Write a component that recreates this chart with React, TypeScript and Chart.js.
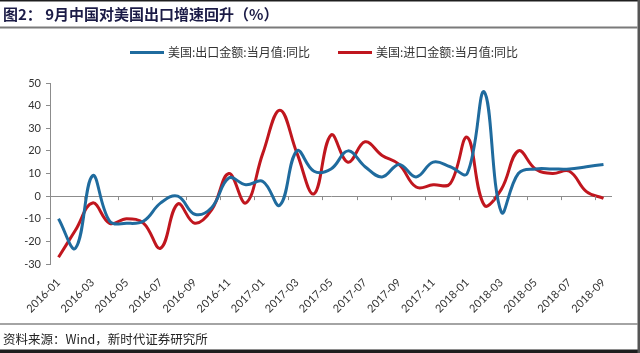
import React, { useEffect, useRef } from 'react';
import { Chart, registerables } from 'chart.js';

Chart.register(...registerables);

const months = [
  '2016-01', '2016-02', '2016-03', '2016-04', '2016-05', '2016-06', '2016-07', '2016-08', '2016-09', '2016-10', '2016-11', '2016-12',
  '2017-01', '2017-02', '2017-03', '2017-04', '2017-05', '2017-06', '2017-07', '2017-08', '2017-09', '2017-10', '2017-11', '2017-12',
  '2018-01', '2018-02', '2018-03', '2018-04', '2018-05', '2018-06', '2018-07', '2018-08', '2018-09',
];

const exportYoY = [
  -10, -23, 9, -11, -12, -11, -3, 0, -8, -5, 8, 5,
  6.5, -4, 20, 11, 12, 20, 13, 8.5, 14, 8.5, 15, 13,
  10, 46, -7, 10, 12, 12, 12, 13, 14,
];

const importYoY = [
  -27, -15, -3, -12, -10, -12, -23, -3.5, -12, -6, 10, -3,
  19, 38, 19, 1, 27, 15, 24, 18, 14, 4, 5, 5.5,
  26, -4, 3, 20, 12, 10, 11, 2, -1,
];

const seriesNames = ['美国:出口金额:当月值:同比', '美国:进口金额:当月值:同比'];
const seriesColors = ['#1F6B9E', '#C0161E'];
const titleText = '图2： 9月中国对美国出口增速回升（%）';
const sourceText = '资料来源：Wind，新时代证券研究所';
const yMin = -30;
const yMax = 50;
const yStep = 10;

const CJK = '"Noto Sans CJK SC", sans-serif';

const decorPlugin = {
  id: 'decor',
  beforeDraw(chart: any) {
    const ctx = chart.ctx;
    ctx.save();
    ctx.fillStyle = '#ffffff';
    ctx.fillRect(0, 0, chart.width, chart.height);
    ctx.restore();
  },
  afterDraw(chart: any) {
    const ctx = chart.ctx;
    const W = chart.width;
    const H = chart.height;
    ctx.save();
    // frame
    ctx.fillStyle = '#1e1e1e';
    ctx.fillRect(0, 0, W, 1.5);
    ctx.fillRect(0, H - 3.5, W, 3.5);
    ctx.fillStyle = '#555555';
    ctx.fillRect(W - 2.5, 0, 2.5, H);

    // title
    ctx.fillStyle = '#1b1b46';
    ctx.font = 'bold 15px ' + CJK;
    ctx.textBaseline = 'middle';
    ctx.textAlign = 'left';
    ctx.fillText(titleText, 3, 14);
    ctx.fillStyle = '#7a7a7a';
    ctx.fillRect(0, 26.5, W - 2.5, 2);

    // legend
    const legendItems = [
      { x: 130, tx: 168 },
      { x: 338, tx: 376 },
    ];
    legendItems.forEach((it, i) => {
      ctx.strokeStyle = seriesColors[i];
      ctx.lineWidth = 3;
      ctx.beginPath();
      ctx.moveTo(it.x, 52.5);
      ctx.lineTo(it.x + 34, 52.5);
      ctx.stroke();
      ctx.fillStyle = '#333333';
      ctx.font = '12px ' + CJK;
      ctx.textBaseline = 'middle';
      ctx.fillText(seriesNames[i], it.tx, 52.5);
    });

    // x tick marks on zero line
    const xs = chart.scales.x;
    const ys = chart.scales.y;
    const y0 = ys.getPixelForValue(0);
    ctx.strokeStyle = '#8c8c8c';
    ctx.lineWidth = 1;
    for (let k = 1; k < months.length - 1; k += 2) {
      const px = Math.round((xs.getPixelForValue(k) + xs.getPixelForValue(k + 1)) / 2) + 0.5;
      ctx.beginPath();
      ctx.moveTo(px, y0);
      ctx.lineTo(px, y0 + 4);
      ctx.stroke();
    }

    // bottom separator and source
    ctx.fillStyle = '#4a4a4a';
    ctx.fillRect(0, 323.5, W - 2.5, 1);
    ctx.fillStyle = '#222222';
    ctx.font = '12.5px ' + CJK;
    ctx.textBaseline = 'middle';
    ctx.fillText(sourceText, 3, 339);
    ctx.restore();
  },
};

export default function App() {
  const ref = useRef<HTMLCanvasElement | null>(null);
  useEffect(() => {
    if (!ref.current) return;
    const tickFont = { family: 'Lato, "Liberation Sans", sans-serif', size: 11 };
    const chart = new Chart(ref.current, {
      type: 'line',
      data: {
        labels: months,
        datasets: [
          {
            label: seriesNames[0],
            data: exportYoY,
            borderColor: seriesColors[0],
            backgroundColor: seriesColors[0],
            borderWidth: 3,
            tension: 0.4,
            pointRadius: 0,
            fill: false,
          },
          {
            label: seriesNames[1],
            data: importYoY,
            borderColor: seriesColors[1],
            backgroundColor: seriesColors[1],
            borderWidth: 3,
            tension: 0.4,
            pointRadius: 0,
            fill: false,
          },
        ],
      },
      options: {
        animation: false,
        responsive: false,
        devicePixelRatio: 1,
        layout: { padding: { top: 83, right: 28, bottom: 40, left: 0 } },
        plugins: { legend: { display: false }, tooltip: { enabled: false }, title: { display: false } },
        scales: {
          x: {
            type: 'category',
            offset: true,
            grid: { display: false },
            border: { display: false },
            ticks: {
              autoSkip: false,
              maxRotation: 45,
              minRotation: 45,
              padding: 4,
              color: '#333333',
              font: tickFont,
              callback: (_v: any, i: number) => (i % 2 === 0 ? months[i] : ''),
            },
            afterFit: (s: any) => {
              s.height = 49;
            },
          },
          y: {
            min: yMin,
            max: yMax,
            ticks: { stepSize: yStep, color: '#333333', font: tickFont, padding: 5 },
            grid: {
              color: (c: any) => (c.tick && c.tick.value === 0 ? '#8c8c8c' : 'rgba(0,0,0,0)'),
              tickColor: '#8c8c8c',
              tickLength: 4,
              lineWidth: 1,
            },
            border: { color: '#8c8c8c', width: 1 },
            afterFit: (s: any) => {
              s.width = 50;
            },
          },
        },
      } as any,
      plugins: [decorPlugin],
    });
    return () => chart.destroy();
  }, []);

  return (
    <div style={{ position: 'fixed', left: 0, top: 0, width: 640, height: 353, background: '#fff' }}>
      <canvas ref={ref} width={640} height={353} style={{ width: 640, height: 353, display: 'block' }} />
    </div>
  );
}
